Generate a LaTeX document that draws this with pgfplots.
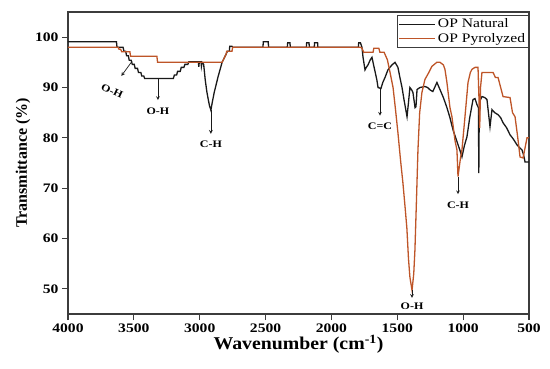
\documentclass[border=0pt]{standalone}
\usepackage{pgfplots}
\pgfplotsset{compat=1.18}
\usepackage{fontspec}
\setmainfont{Liberation Serif}
\newfontfamily\widefont[FakeStretch=1.2]{Liberation Serif}
\newfontfamily\midfont[FakeStretch=1.1]{Liberation Serif}
\definecolor{natc}{RGB}{25,25,25}
\definecolor{pyrc}{RGB}{190,85,40}
\definecolor{framec}{RGB}{60,60,60}
\begin{document}
\begin{tikzpicture}
\begin{axis}[
  scale only axis, width=461pt, height=302pt,
  at={(0pt,0pt)}, anchor=south west,
  xmin=500, xmax=4000, x dir=reverse,
  ymin=45, ymax=105,
  xtick={500,1000,...,4000}, ytick={50,60,...,100},
  tick pos=left, tick align=outside, major tick length=6pt,
  axis line style={framec, line width=1.1pt},
  every tick/.style={framec, line width=1.1pt},
  /pgf/number format/assume math mode=true,
  /pgf/number format/set thousands separator={},
  tick label style={font=\widefont\bfseries\fontsize{13}{15}\selectfont},
  xlabel={Wavenumber (cm\textsuperscript{-1})},
  ylabel={Transmittance (\%)},
  xlabel style={font=\midfont\bfseries\fontsize{18}{20}\selectfont, yshift=4pt},
  ylabel style={font=\bfseries\fontsize{16}{18}\selectfont, yshift=-2pt},
  legend style={at={(1,0.99)}, anchor=north east, draw=framec, line width=0.8pt,
    font=\widefont\fontsize{13}{14}\selectfont, inner sep=1.5pt, row sep=0pt,
    cells={anchor=west}},
  legend image code/.code={\draw[#1] (0pt,0pt) -- (36pt,0pt);},
  clip=true,
]
\addplot[natc, line width=1.3pt] coordinates {
(4000,99.1)(3632,99.1)(3628,98)(3582,98)(3575,97.2)(3562,97.2)(3555,96.3)(3542,96.3)(3535,95.4)(3520,95.4)(3512,94.6)(3497,94.6)(3490,93.8)(3472,93.8)(3465,93.0)(3447,93.0)(3440,92.3)(3425,92.3)(3418,91.8)(3200,91.8)(3192,92.5)(3175,92.5)(3168,93.2)(3148,93.2)(3140,94)(3120,94)(3112,94.6)(3090,94.6)(3082,95.1)(3010,95.1)(3007,94.1)(3003,95.1)(2990,95.1)(2987,94.2)(2982,95)(2970,94.6)(2958,91.5)(2946,89.2)(2935,87.6)(2925,86.3)(2915,85.5)(2905,87)(2890,89)(2875,90.6)(2860,92.2)(2845,93.6)(2830,95)(2815,95.8)(2800,96.6)(2790,97.2)(2775,97.2)(2772,98.2)(2755,98.2)(2750,98)
(2520,98)(2517,99.1)(2480,99.1)(2477,98)(2335,98)(2332,98.9)(2315,98.9)(2312,98)(2190,98)(2188,98.9)(2170,98.9)(2168,98)(2130,98)(2128,98.9)(2105,98.9)(2103,98)
(1795,98)(1793,98.9)(1780,98.9)(1768,98)(1760,96)(1745,93.5)(1735,94)(1722,94.5)(1705,95.5)(1692,96)(1680,94.5)(1669,93.2)(1655,91.5)(1646,90)(1624,89.8)(1610,91)(1593,92)(1571,93.5)(1540,94.5)(1517,95)(1495,94)(1480,92)(1464,90)(1449,87.6)(1426,84.2)(1415,87)(1404,90)(1390,89.5)(1381,89)(1365,86)(1358,86.2)(1350,89.6)(1328,90)(1290,90.2)(1270,90)(1250,89.5)(1230,89.2)(1199,91)(1176,89.6)(1150,88)(1123,86)(1100,84)(1077,81.6)(1050,79.5)(1024,77.5)(1009,76.2)(990,78.5)(971,80.2)(950,84)(925,87.6)(910,87.8)(895,86.6)(884,86)(881,73)(878,84)(870,87.5)(857,88.2)(835,88)(819,87.6)(808,85)(796,82.2)(781,85.6)(760,85)(735,84.6)(715,84)(697,83)(670,82)(644,80.6)(620,79.8)(591,78.6)(570,78)(553,77.6)(540,76.5)(530,75.2)(500,75.2)
};
\addlegendentry{OP Natural}
\addplot[pyrc, line width=1.3pt] coordinates {
(4000,98)(3620,98)(3612,97.6)(3600,97.6)(3592,97.1)(3530,97.1)(3525,96.2)(3325,96.2)(3320,95)(2830,95)(2815,95.8)(2800,96.6)(2795,97.2)(2755,97.2)(2750,98)(1780,98)(1768,97.8)(1755,97)(1684,97)(1678,97.8)(1640,97.8)(1632,97)(1600,97)(1575,95.5)(1555,93)(1532,90)(1515,86)(1495,81)(1475,75.5)(1457,71)(1440,66)(1427,62)(1415,56)(1404,52.3)(1388,49.7)(1375,53)(1366,57.7)(1355,67)(1343,77.6)(1330,85)(1313,89)(1290,91.6)(1260,93)(1237,94.2)(1200,95)(1176,95)(1150,94.5)(1138,93.6)(1123,91)(1100,86)(1085,84.2)(1062,79.5)(1047,77.6)(1039,72.3)(1020,76)(1009,77.6)(986,84.2)(963,91)(945,93)(933,93.6)(910,94)(887,94)(880,88)(874,82)(868,90)(857,93)(834,93)(800,93)(773,93)(755,92)(735,92)(715,90)(697,88.2)(644,88)(625,85)(606,84.2)(585,80)(568,76.2)(545,76)(530,78)(515,80)(500,80)
};
\addlegendentry{OP Pyrolyzed}
% annotations
\draw[natc, line width=0.7pt, -stealth] (axis cs:3514,95.2) -- (axis cs:3595,92.3);
\node[font=\widefont\bfseries\fontsize{10}{12}\selectfont, rotate=-25] at (axis cs:3665,89.3) {O-H};
\draw[natc, line width=0.7pt, -stealth] (axis cs:3317,91.8) -- (axis cs:3317,87.5);
\node[font=\widefont\bfseries\fontsize{10}{12}\selectfont] at (axis cs:3317,85.3) {O-H};
\draw[natc, line width=0.7pt, -stealth] (axis cs:2915,85.5) -- (axis cs:2915,80.8);
\node[font=\widefont\bfseries\fontsize{10}{12}\selectfont] at (axis cs:2915,78.7) {C-H};
\draw[natc, line width=0.7pt, -stealth] (axis cs:1631,89.8) -- (axis cs:1631,84.4);
\node[font=\widefont\bfseries\fontsize{10}{12}\selectfont] at (axis cs:1631,82.3) {C=C};
\draw[natc, line width=0.7pt, -stealth] (axis cs:1388,49.7) -- (axis cs:1388,48.2);
\node[font=\widefont\bfseries\fontsize{10}{12}\selectfont] at (axis cs:1388,46.5) {O-H};
\draw[natc, line width=0.7pt, -stealth] (axis cs:1039,72.3) -- (axis cs:1039,68.8);
\node[font=\widefont\bfseries\fontsize{10}{12}\selectfont] at (axis cs:1039,66.6) {C-H};
\end{axis}
\path (-68pt,-54pt) rectangle (482pt,314pt);
\end{tikzpicture}
\end{document}
